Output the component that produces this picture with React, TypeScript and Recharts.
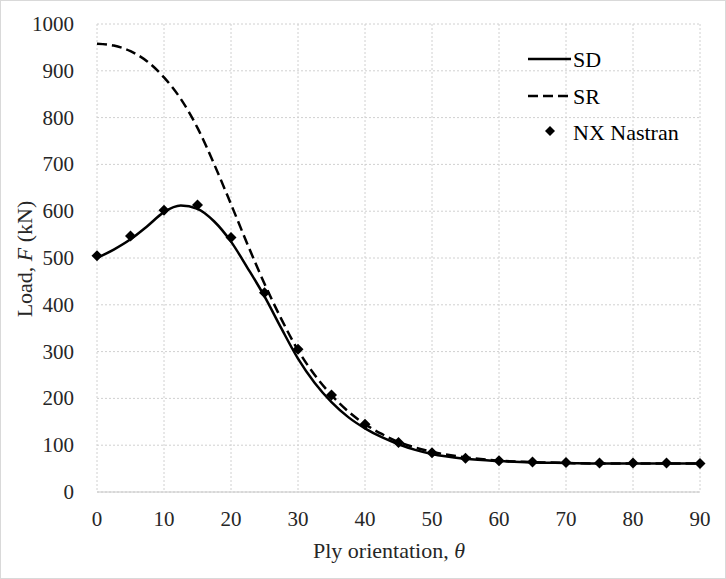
import React from "react";
import {
  ComposedChart,
  Line,
  Scatter,
  XAxis,
  YAxis,
  CartesianGrid,
} from "recharts";

// ply angle (deg) for the analytic curves
const angles = [0, 2.5, 5, 7.5, 10, 12.5, 15, 17.5, 20, 22.5, 25, 27.5, 30, 32.5, 35, 37.5, 40, 42.5, 45, 47.5, 50, 55, 60, 65, 70, 75, 80, 85, 90];
const sdLoads = [500, 518, 540, 568, 598, 612, 605, 578, 535, 478, 418, 350, 285, 233, 192, 160, 136, 117, 102, 90, 81, 71, 66, 63, 62, 61, 61, 61, 61];
const srLoads = [958, 954, 942, 920, 886, 840, 778, 700, 615, 528, 445, 370, 303, 250, 207, 172, 145, 124, 107, 95, 86, 74, 67, 64, 62, 61, 61, 61, 61];

// NX Nastran FE results
const nxAngles = [0, 5, 10, 15, 20, 25, 30, 35, 40, 45, 50, 55, 60, 65, 70, 75, 80, 85, 90];
const nxLoads = [505, 547, 602, 613, 544, 426, 305, 207, 145, 106, 84, 72, 67, 64, 63, 62, 62, 62, 61];

const xTicks = [0, 10, 20, 30, 40, 50, 60, 70, 80, 90];
const yTicks = [0, 100, 200, 300, 400, 500, 600, 700, 800, 900, 1000];

const sdData = angles.map((a, i) => ({ angle: a, sd: sdLoads[i] }));
const srData = angles.map((a, i) => ({ angle: a, sr: srLoads[i] }));
const nxData = nxAngles.map((a, i) => ({ angle: a, nx: nxLoads[i] }));

const FONT = "Liberation Serif";
const TEXT = "#262626";

function Diamond(props: any) {
  const { cx, cy } = props;
  if (cx == null || cy == null) return null;
  const r = 5.5;
  return (
    <polygon
      points={`${cx},${cy - r} ${cx + r},${cy} ${cx},${cy + r} ${cx - r},${cy}`}
      fill="#000"
    />
  );
}

function XTick({ x, y, payload }: any) {
  return (
    <text x={x} y={y + 26} textAnchor="middle" fontSize={21} fontFamily={FONT} fill={TEXT}>
      {payload.value}
    </text>
  );
}

function YTick({ x, y, payload }: any) {
  return (
    <text x={x - 3} y={y + 7} textAnchor="end" fontSize={21} fontFamily={FONT} fill={TEXT}>
      {payload.value}
    </text>
  );
}

function ChartLegend() {
  return (
    <svg
      width={200}
      height={110}
      style={{ position: "absolute", left: 519, top: 45 }}
    >
      <line x1={8} y1={13} x2={51} y2={13} stroke="#000" strokeWidth={2.5} />
      <text x={53} y={21} fontSize={22} fontFamily={FONT} fill="#000">SD</text>
      <line x1={8} y1={50} x2={51} y2={50} stroke="#000" strokeWidth={2.5} strokeDasharray="10 5" />
      <text x={53} y={58} fontSize={22} fontFamily={FONT} fill="#000">SR</text>
      <polygon points="30,80 35,85 30,90 25,85" fill="#000" />
      <text x={53} y={94} fontSize={22} fontFamily={FONT} fill="#000">NX Nastran</text>
    </svg>
  );
}

export default function App() {
  return (
    <div
      style={{
        position: "absolute",
        left: 0,
        top: 0,
        width: 724,
        height: 577,
        border: "1px solid #d9d9d9",
        background: "#fff",
      }}
    >
      <ComposedChart
        width={724}
        height={577}
        margin={{ top: 23, right: 25, bottom: 56, left: 0 }}
      >
        <CartesianGrid stroke="#d0d0d0" strokeDasharray="2 2" />
        <XAxis
          dataKey="angle"
          type="number"
          domain={[0, 90]}
          ticks={xTicks}
          allowDuplicatedCategory={false}
          axisLine={{ stroke: "#c8c8c8" }}
          tickLine={false}
          tick={<XTick />}
        />
        <YAxis
          type="number"
          domain={[0, 1000]}
          ticks={yTicks}
          width={96}
          axisLine={false}
          tickLine={false}
          tick={<YTick />}
          tickMargin={14}
        />
        <Line
          data={srData}
          dataKey="sr"
          type="monotone"
          stroke="#000"
          strokeWidth={2.5}
          strokeDasharray="10 5"
          dot={false}
          isAnimationActive={false}
        />
        <Line
          data={sdData}
          dataKey="sd"
          type="monotone"
          stroke="#000"
          strokeWidth={2.5}
          dot={false}
          isAnimationActive={false}
        />
        <Scatter
          data={nxData}
          dataKey="nx"
          shape={<Diamond />}
          isAnimationActive={false}
        />
        <text
          transform="translate(31, 258) rotate(-90)"
          textAnchor="middle"
          fontSize={22}
          fill={TEXT}
          fontFamily={FONT}
        >
          Load, <tspan fontStyle="italic">F</tspan> (kN)
        </text>
        <text x={388} y={557} textAnchor="middle" fontSize={22} fill={TEXT} fontFamily={FONT}>
          Ply orientation, <tspan fontStyle="italic">θ</tspan>
        </text>
      </ComposedChart>
      <ChartLegend />
    </div>
  );
}
